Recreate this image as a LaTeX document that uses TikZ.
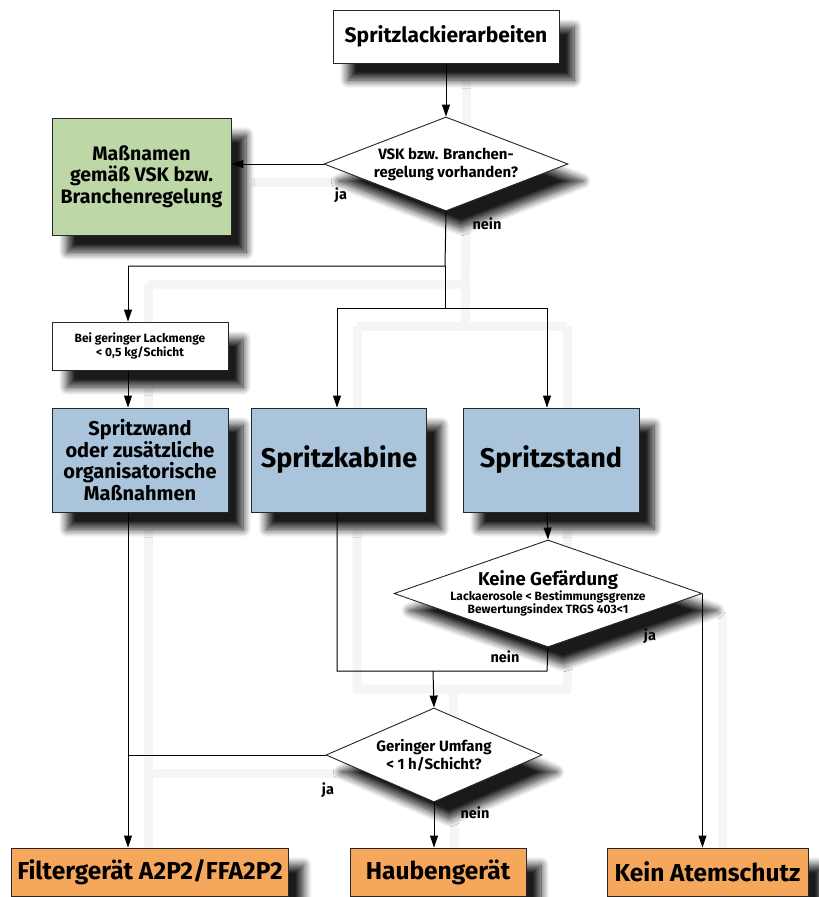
\documentclass[tikz,border=0pt]{standalone}
\usepackage{fontspec}
\setmainfont{Fira Sans}
\usepackage{tikz}
\usetikzlibrary{shapes.geometric, arrows.meta, shadows.blur, backgrounds}

\definecolor{boxgreen}{HTML}{BDD7A6}
\definecolor{boxblue}{HTML}{A9C4DB}
\definecolor{boxorange}{HTML}{F5A85C}

\newcommand{\fs}[2]{\fontsize{#1}{#2}\selectfont}

\begin{document}
\begin{tikzpicture}[x=1pt, y=-1pt, font=\bfseries, >={Triangle[length=12pt,width=8pt]},
    box/.style={draw=black!85, line width=0.9pt, fill=white, inner sep=2pt, align=center,
        blur shadow={shadow xshift=15pt, shadow yshift=-17pt, shadow blur radius=8pt,
        shadow blur steps=12, shadow opacity=90}},
    decision/.style={box, diamond, inner sep=0pt},
    line/.style={line width=1pt, preaction={draw=black!4, line width=9pt, -,
        transform canvas={xshift=20pt, yshift=-18pt}}},
    lbl/.style={font=\bfseries\fs{14.5}{16}}]
    \useasboundingbox (0,0) rectangle (819,897);

    % start and first question
    \node[box, minimum width=226pt, minimum height=53pt, font=\bfseries\fs{21}{24}] (start) at (446,36.5) {Spritzlackierarbeiten};
    \node[decision, aspect=2.6, minimum width=244pt, minimum height=94pt, font=\bfseries\fs{15}{18}] (vsk) at (446,164) {VSK bzw. Branchen-\\regelung vorhanden?};
    \node[box, fill=boxgreen, minimum width=179pt, minimum height=117pt, font=\bfseries\fs{19.5}{21.5}] (branche) at (141.5,176.5) {Maßnamen\\gemäß VSK bzw.\\Branchenregelung};

    % middle row
    \node[box, minimum width=176pt, minimum height=48pt, font=\bfseries\fs{12}{13.5}] (menge) at (140,346) {Bei geringer Lackmenge\\< 0,5 kg/Schicht};
    \node[box, fill=boxblue, minimum width=176pt, minimum height=104pt, font=\bfseries\fs{20}{21.5}] (wand) at (140,460) {Spritzwand\\oder zusätzliche\\organisatorische\\Maßnahmen};
    \node[box, fill=boxblue, minimum width=175pt, minimum height=104pt, font=\bfseries\fs{27}{30}] (kabine) at (339,460) {Spritzkabine};
    \node[box, fill=boxblue, minimum width=176pt, minimum height=104pt, font=\bfseries\fs{27}{30}] (stand) at (551,460) {Spritzstand};

    % questions below
    \node[decision, aspect=2.9, inner sep=-8pt, minimum width=308pt, minimum height=107pt, font=\bfseries\fs{12}{13.5}] (gefahr) at (548,593.5) {{\fs{18.5}{20}Keine Gefärdung}\\Lackaerosole < Bestimmungsgrenze\\Bewertungsindex TRGS 403<1};
    \node[decision, aspect=2.3, minimum width=216pt, minimum height=94pt, font=\bfseries\fs{15}{18}] (umfang) at (434,755) {Geringer Umfang\\< 1 h/Schicht?};

    % results
    \node[box, fill=boxorange, minimum width=277pt, minimum height=48pt, font=\bfseries\fs{24.5}{27}] (filter) at (150,872) {Filtergerät A2P2/FFA2P2};
    \node[box, fill=boxorange, minimum width=176pt, minimum height=48pt, font=\bfseries\fs{24.5}{27}] (haube) at (438,872) {Haubengerät};
    \node[box, fill=boxorange, minimum width=201pt, minimum height=48pt, font=\bfseries\fs{24.5}{27}] (keiner) at (707.5,872) {Kein Atemschutz};

    \coordinate (j1) at (445,266);
    \coordinate (j2) at (128,266);
    \coordinate (j3) at (445,308);
    \coordinate (j4) at (337,308);
    \coordinate (j5) at (547,308);
    \coordinate (j6) at (337,671);
    \coordinate (j7) at (547,671);
    \coordinate (j8) at (433,671);

    \begin{scope}[on background layer]
    \draw[line, ->] (start.south -| vsk.north) -- (vsk.north);
    \draw[line, ->] (vsk.west) -- (vsk.west -| branche.east);
    \draw[line] (vsk.south) -- (j1) -- (j2);
    \draw[line, ->] (j2) -- (menge.north -| j2);
    \draw[line] (j1) -- (j3);
    \draw[line] (j4) -- (j5);
    \draw[line, ->] (j4) -- (kabine.north -| j4);
    \draw[line, ->] (j5) -- (stand.north -| j5);
    \draw[line, ->] (menge.south -| j2) -- (wand.north -| j2);
    \draw[line, ->] (stand.south -| j5) -- (gefahr.north);
    \draw[line] (kabine.south -| j6) -- (j6) -- (j7) -- (gefahr.south);
    \draw[line, ->] (j8) -- (umfang.north);
    \draw[line, ->] (wand.south -| j2) -- (filter.north -| j2);
    \draw[line] (umfang.west) -- (umfang.west -| j2);
    \draw[line, ->] (umfang.south) -- (haube.north -| umfang.south);
    \draw[line, ->] (gefahr.east) -- (keiner.north -| gefahr.east);
    \end{scope}

    % answers
    \node[lbl] (ja1) at (341,195) {ja};
    \node[lbl] (nein1) at (487,224) {nein};
    \node[lbl] (nein2) at (505,657) {nein};
    \node[lbl] (ja2) at (650,636) {ja};
    \node[lbl] (ja3) at (328,790) {ja};
    \node[lbl] (nein3) at (475,813) {nein};
\end{tikzpicture}
\end{document}
